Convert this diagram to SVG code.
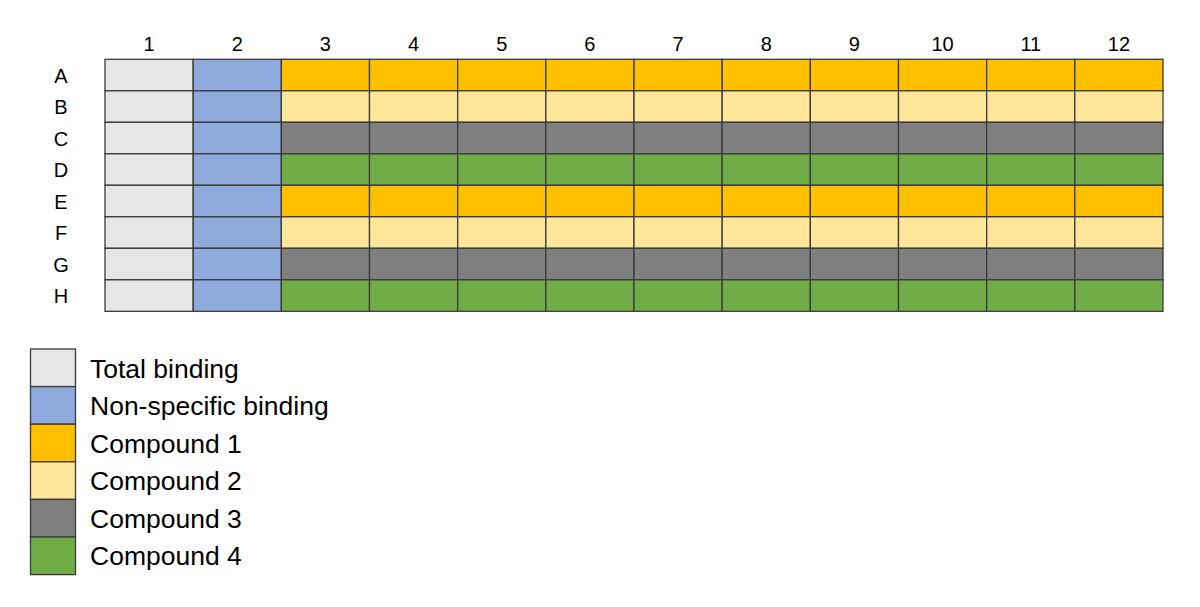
<svg xmlns="http://www.w3.org/2000/svg" width="1200" height="607" viewBox="0 0 1200 607">
<style>
text{font-family:"Liberation Sans",Arial,sans-serif;fill:#000}
.h{font-size:20px;text-anchor:middle}
.l{font-size:26.5px}
.cell{stroke:#3a3a3a;stroke-width:1.3}
.tb{fill:#E7E6E6}.ns{fill:#8FAADC}.c1{fill:#FFC000}.c2{fill:#FFE699}.c3{fill:#7F7F7F}.c4{fill:#70AD47}
</style>
<rect width="1200" height="607" fill="#fff"/>
<g id="col-headers">
<text class="h" x="149.1" y="51">1</text><text class="h" x="237.3" y="51">2</text><text class="h" x="325.4" y="51">3</text><text class="h" x="413.6" y="51">4</text><text class="h" x="501.8" y="51">5</text><text class="h" x="589.9" y="51">6</text><text class="h" x="678.1" y="51">7</text><text class="h" x="766.3" y="51">8</text><text class="h" x="854.4" y="51">9</text><text class="h" x="942.6" y="51">10</text><text class="h" x="1030.8" y="51">11</text><text class="h" x="1118.9" y="51">12</text>
</g>
<g id="row-headers">
<text class="h" x="61" y="82.5">A</text><text class="h" x="61" y="114">B</text><text class="h" x="61" y="145.5">C</text><text class="h" x="61" y="177">D</text><text class="h" x="61" y="208.5">E</text><text class="h" x="61" y="240">F</text><text class="h" x="61" y="271.5">G</text><text class="h" x="61" y="303">H</text>
</g>
<g id="col1" class="cell tb"><rect x="105" y="59.3" width="88.17" height="31.5"/><rect x="105" y="90.8" width="88.17" height="31.5"/><rect x="105" y="122.3" width="88.17" height="31.5"/><rect x="105" y="153.8" width="88.17" height="31.5"/><rect x="105" y="185.3" width="88.17" height="31.5"/><rect x="105" y="216.8" width="88.17" height="31.5"/><rect x="105" y="248.3" width="88.17" height="31.5"/><rect x="105" y="279.8" width="88.17" height="31.5"/></g>
<g id="col2" class="cell ns"><rect x="193.17" y="59.3" width="88.17" height="31.5"/><rect x="193.17" y="90.8" width="88.17" height="31.5"/><rect x="193.17" y="122.3" width="88.17" height="31.5"/><rect x="193.17" y="153.8" width="88.17" height="31.5"/><rect x="193.17" y="185.3" width="88.17" height="31.5"/><rect x="193.17" y="216.8" width="88.17" height="31.5"/><rect x="193.17" y="248.3" width="88.17" height="31.5"/><rect x="193.17" y="279.8" width="88.17" height="31.5"/></g>
<defs>
<g id="cells">
<rect x="281.33" width="88.17" height="31.5"/><rect x="369.5" width="88.17" height="31.5"/><rect x="457.67" width="88.17" height="31.5"/><rect x="545.83" width="88.17" height="31.5"/><rect x="634" width="88.17" height="31.5"/><rect x="722.17" width="88.17" height="31.5"/><rect x="810.33" width="88.17" height="31.5"/><rect x="898.5" width="88.17" height="31.5"/><rect x="986.67" width="88.17" height="31.5"/><rect x="1074.83" width="88.17" height="31.5"/>
</g>
</defs>
<g id="rowA" class="cell c1"><use href="#cells" y="59.3"/></g>
<g id="rowB" class="cell c2"><use href="#cells" y="90.8"/></g>
<g id="rowC" class="cell c3"><use href="#cells" y="122.3"/></g>
<g id="rowD" class="cell c4"><use href="#cells" y="153.8"/></g>
<g id="rowE" class="cell c1"><use href="#cells" y="185.3"/></g>
<g id="rowF" class="cell c2"><use href="#cells" y="216.8"/></g>
<g id="rowG" class="cell c3"><use href="#cells" y="248.3"/></g>
<g id="rowH" class="cell c4"><use href="#cells" y="279.8"/></g>
<g id="legend">
<g id="lg-total"><rect class="cell tb" x="30.5" y="349" width="45" height="37.6"/><text class="l" x="90" y="377.5">Total binding</text></g>
<g id="lg-nsb"><rect class="cell ns" x="30.5" y="386.6" width="45" height="37.6"/><text class="l" x="90" y="415">Non-specific binding</text></g>
<g id="lg-c1"><rect class="cell c1" x="30.5" y="424.2" width="45" height="37.6"/><text class="l" x="90" y="452.5">Compound 1</text></g>
<g id="lg-c2"><rect class="cell c2" x="30.5" y="461.8" width="45" height="37.6"/><text class="l" x="90" y="490">Compound 2</text></g>
<g id="lg-c3"><rect class="cell c3" x="30.5" y="499.4" width="45" height="37.6"/><text class="l" x="90" y="527.5">Compound 3</text></g>
<g id="lg-c4"><rect class="cell c4" x="30.5" y="537" width="45" height="37.6"/><text class="l" x="90" y="565">Compound 4</text></g>
</g>
</svg>
